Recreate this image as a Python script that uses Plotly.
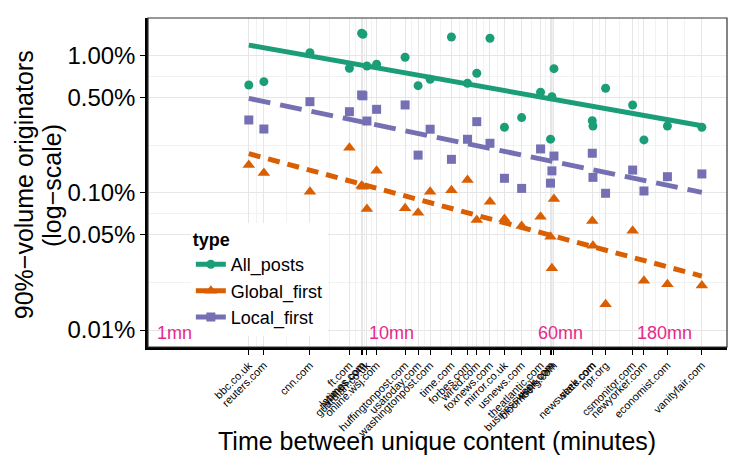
import numpy as np
import plotly.graph_objects as go

sites = ["bbc.co.uk", "reuters.com", "cnn.com", "ft.com", "latimes.com", "nytimes.com",
         "guardian.co.uk", "online.wsj.com", "huffingtonpost.com", "usatoday.com",
         "washingtonpost.com", "time.com", "forbes.com", "wired.com", "foxnews.com",
         "mirror.co.uk", "usnews.com", "theatlantic.com", "businessweek.com", "espn.com",
         "bloomberg.com", "newsweek.com", "slate.com", "npr.org", "csmonitor.com",
         "newyorker.com", "economist.com", "vanityfair.com"]
minutes = [2.19, 2.57, 4.19, 6.37, 7.25, 7.35, 7.67, 8.50, 11.5, 13.2, 15.0, 18.8, 22.3,
           24.6, 28.3, 33.0, 39.6, 48.4, 53.8, 54.6, 55.8, 83.8, 84.4, 96.5, 128.6, 145,
           186, 268]
all_posts = [0.614, 0.649, 1.057, 0.813, 1.465, 1.44, 0.845, 0.870, 0.978, 0.607, 0.676,
             1.376, 0.632, 0.748, 1.347, 0.302, 0.355, 0.543, 0.247, 0.504, 0.808, 0.337,
             0.308, 0.581, 0.439, 0.244, 0.308, 0.302]
global_first = [0.160, 0.140, 0.102, 0.214, 0.113, 0.111, 0.0764, 0.1455, 0.0773, 0.0718,
                0.102, 0.1047, 0.1244, 0.0635, 0.0864, 0.0646, 0.0574, 0.0671, 0.0479,
                0.0282, 0.0904, 0.0625, 0.0412, 0.0154, 0.0531, 0.0229, 0.0216, 0.0211]
local_first = [0.341, 0.293, 0.464, 0.392, 0.519, 0.512, 0.335, 0.408, 0.439, 0.189, 0.292,
               0.176, 0.2466, 0.3315, 0.2305, 0.128, 0.108, 0.2096, 0.118, 0.145, 0.186,
               0.195, 0.130, 0.0995, 0.147, 0.1034, 0.1315, 0.1377]

y_ticks = [0.01, 0.05, 0.1, 0.5, 1.0]
y_ticktext = ["0.01%", "0.05%", "0.10%", "0.50%", "1.00%"]
time_marks = [1, 10, 60, 180]
time_labels = ["1mn", "10mn", "60mn", "180mn"]

series = [
    ("All_posts", all_posts, "#1B9E77", "circle", 9, "solid"),
    ("Global_first", global_first, "#D95F02", "triangle-up", 11, "12px,8px"),
    ("Local_first", local_first, "#7570B3", "square", 9, "22px,10px"),
]

fig = go.Figure()
lx = np.log10(np.array(minutes))
xfit = np.array([min(minutes), max(minutes)])
for name, vals, col, sym, size, dash in series:
    ly = np.log10(np.array(vals))
    b, a = np.polyfit(lx, ly, 1)
    yfit = 10 ** (a + b * np.log10(xfit))
    fig.add_trace(go.Scatter(x=xfit, y=yfit, mode="lines", showlegend=False,
                             line=dict(color=col, width=5, dash=dash), hoverinfo="skip"))
    fig.add_trace(go.Scatter(x=minutes, y=vals, mode="markers", showlegend=False,
                             marker=dict(color=col, symbol=sym, size=size, line=dict(width=0))))
    fig.add_trace(go.Scatter(x=[None], y=[None], mode="lines+markers", name=name,
                             line=dict(color=col, width=5),
                             marker=dict(color=col, symbol=sym, size=size)))

sm = sorted(minutes)
minor_x = [float(np.sqrt(sm[i] * sm[i + 1])) for i in range(len(sm) - 1)]
minor_y = [float(np.sqrt(y_ticks[i] * y_ticks[i + 1])) for i in range(len(y_ticks) - 1)]

for t, lab in zip(time_marks, time_labels):
    fig.add_annotation(x=np.log10(t), y=np.log10(0.0095), text=lab, showarrow=False,
                       font=dict(color="#E7298A", size=18), xanchor="center", yanchor="middle")

# axis titles
fig.add_annotation(xref="paper", yref="paper", x=-0.214, y=0.492, text="90%−volume originators",
                   textangle=-90, showarrow=False, font=dict(size=25),
                   xanchor="center", yanchor="middle")
fig.add_annotation(xref="paper", yref="paper", x=-0.166, y=0.492, text="(log−scale)",
                   textangle=-90, showarrow=False, font=dict(size=25),
                   xanchor="center", yanchor="middle")
fig.add_annotation(xref="paper", yref="paper", x=0.499, y=-0.286,
                   text="Time between unique content (minutes)",
                   showarrow=False, font=dict(size=25), xanchor="center", yanchor="middle")

fig.add_shape(type="rect", xref="paper", yref="paper", x0=0, y0=0, x1=1, y1=1,
              line=dict(color="#333333", width=1.2), layer="above")

fig.update_layout(
    width=739, height=459,
    margin=dict(l=140, r=20, t=10, b=120),
    paper_bgcolor="white", plot_bgcolor="white",
    font=dict(family="Liberation Sans, Arial, sans-serif", color="black"),
    legend=dict(x=0.074, y=0.378, xanchor="left", yanchor="top",
                bgcolor="white", borderwidth=0,
                title=dict(text="<b>type</b>", font=dict(size=18)),
                font=dict(size=18), tracegroupgap=0, itemwidth=30),
    xaxis=dict(type="log", range=[-0.124, 2.544], automargin=False,
               tickmode="array", tickvals=minutes, ticktext=sites, tickangle=-45,
               tickfont=dict(size=11), ticks="outside", ticklen=5, tickcolor="black",
               showgrid=True, gridcolor="#e6e6e6", gridwidth=1,
               minor=dict(tickmode="array", tickvals=minor_x, showgrid=True,
                          gridcolor="#f2f2f2", gridwidth=0.8, ticks=""),
               showline=True, linecolor="black", linewidth=2.5, zeroline=False),
    yaxis=dict(type="log", range=[-2.124, 0.277], automargin=False,
               tickmode="array", tickvals=y_ticks, ticktext=y_ticktext,
               tickfont=dict(size=24), ticks="outside", ticklen=5, tickcolor="black",
               showgrid=True, gridcolor="#e6e6e6", gridwidth=1,
               minor=dict(tickmode="array", tickvals=minor_y, showgrid=True,
                          gridcolor="#f2f2f2", gridwidth=0.8, ticks=""),
               showline=True, linecolor="black", linewidth=2.5, zeroline=False),
)

fig.write_html("out.html")
